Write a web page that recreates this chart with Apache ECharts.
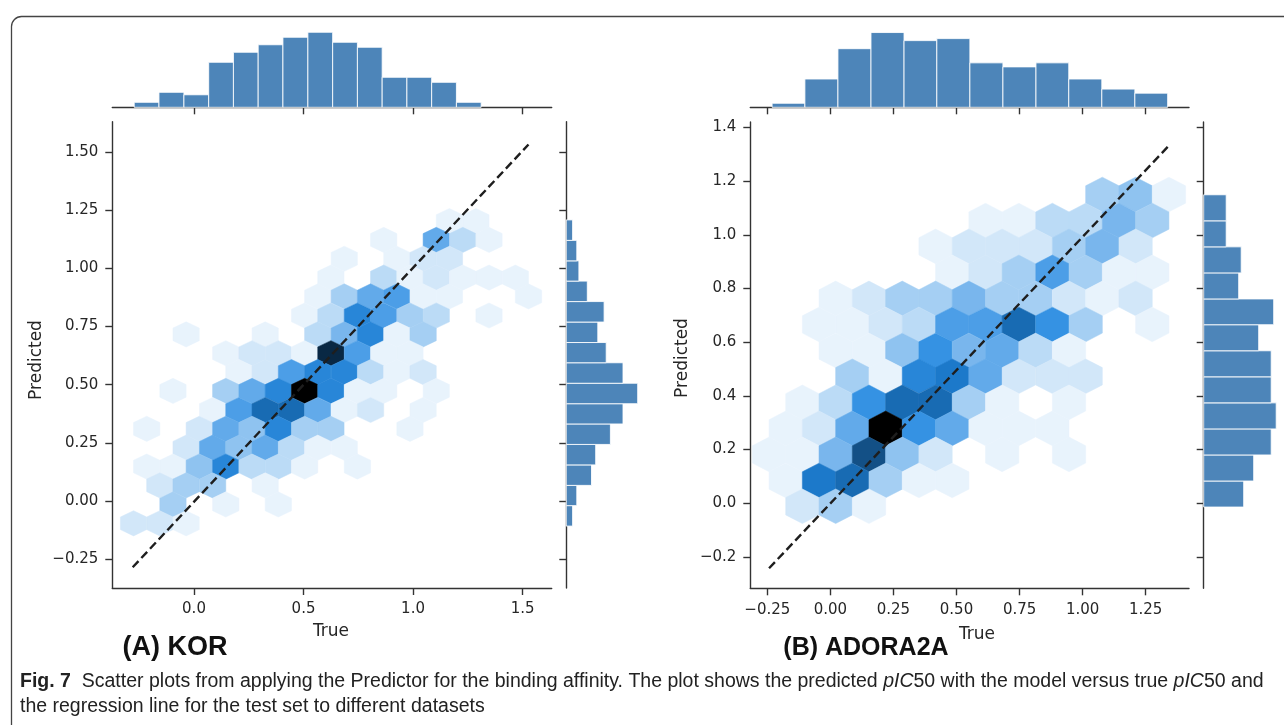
<!DOCTYPE html>
<html><head><meta charset="utf-8">
<script src="https://cdn.jsdelivr.net/npm/echarts@6/dist/echarts.min.js"></script>
<style>html,body{margin:0;padding:0;background:#fff}#c{width:1284px;height:725px}</style>
</head><body><div id="c"></div>
<script>
// ---------- DATA ----------
// Hexbin cells: [true, predicted, count]
const hexA = [
  [1.166,1.203,1],[1.287,1.203,1],
  [0.866,1.122,1],[1.106,1.122,7],[1.227,1.122,3],[1.347,1.122,1],
  [0.686,1.041,1],[0.926,1.041,1],[1.046,1.041,2],[1.166,1.041,2],
  [0.625,0.960,1],[0.866,0.960,3],[0.986,0.960,1],[1.106,0.960,2],[1.227,0.960,1],[1.347,0.960,1],[1.467,0.960,1],
  [0.565,0.879,1],[0.686,0.879,4],[0.806,0.879,7],[0.926,0.879,8],[1.046,0.879,1],[1.166,0.879,1],[1.527,0.879,1],
  [0.505,0.797,1],[0.625,0.797,3],[0.746,0.797,10],[0.866,0.797,8],[0.986,0.797,4],[1.106,0.797,3],[1.347,0.797,1],
  [-0.036,0.716,1],[0.325,0.716,1],[0.565,0.716,3],[0.686,0.716,6],[0.806,0.716,10],[0.926,0.716,1],[1.046,0.716,4],
  [0.145,0.635,1],[0.265,0.635,2],[0.385,0.635,2],[0.505,0.635,1],[0.625,0.635,17],[0.746,0.635,8],[0.866,0.635,1],[0.986,0.635,1],
  [0.205,0.554,1],[0.325,0.554,2],[0.445,0.554,8],[0.565,0.554,10],[0.686,0.554,10],[0.806,0.554,3],[0.926,0.554,1],[1.046,0.554,2],
  [-0.096,0.473,1],[0.145,0.473,4],[0.265,0.473,7],[0.385,0.473,10],[0.505,0.473,20],[0.625,0.473,10],[0.746,0.473,1],[0.866,0.473,1],[1.106,0.473,1],
  [0.085,0.391,1],[0.205,0.391,8],[0.325,0.391,12],[0.445,0.391,12],[0.565,0.391,7],[0.686,0.391,1],[0.806,0.391,2],[1.046,0.391,1],
  [-0.216,0.310,1],[0.024,0.310,2],[0.145,0.310,7],[0.265,0.310,5],[0.385,0.310,10],[0.505,0.310,4],[0.625,0.310,4],[0.986,0.310,1],
  [-0.036,0.229,2],[0.085,0.229,7],[0.205,0.229,5],[0.325,0.229,7],[0.445,0.229,3],[0.565,0.229,1],[0.686,0.229,1],
  [-0.216,0.148,1],[-0.096,0.148,1],[0.024,0.148,5],[0.145,0.148,10],[0.265,0.148,3],[0.385,0.148,3],[0.505,0.148,1],[0.746,0.148,1],
  [-0.156,0.067,2],[-0.036,0.067,4],[0.085,0.067,4],[0.325,0.067,1],
  [-0.096,-0.015,4],[0.145,-0.015,1],[0.385,-0.015,1],
  [-0.276,-0.096,2],[-0.156,-0.096,2],[-0.036,-0.096,1]
];
const hexB = [
  [1.078,1.150,4],[1.210,1.150,5],[1.342,1.150,1],
  [0.615,1.053,1],[0.747,1.053,1],[0.880,1.053,3],[1.012,1.053,3],[1.144,1.053,6],[1.276,1.053,4],
  [0.417,0.957,1],[0.549,0.957,2],[0.681,0.957,2],[0.813,0.957,2],[0.946,0.957,4],[1.078,0.957,6],[1.210,0.957,2],
  [0.483,0.860,1],[0.615,0.860,2],[0.747,0.860,4],[0.880,0.860,8],[1.012,0.860,4],[1.144,0.860,1],[1.276,0.860,1],
  [0.021,0.763,1],[0.153,0.763,2],[0.285,0.763,4],[0.417,0.763,4],[0.549,0.763,6],[0.681,0.763,4],[0.813,0.763,4],[0.946,0.763,2],[1.078,0.763,1],[1.210,0.763,2],
  [-0.045,0.666,1],[0.087,0.666,1],[0.219,0.666,2],[0.351,0.666,3],[0.483,0.666,8],[0.615,0.666,8],[0.747,0.666,12],[0.880,0.666,9],[1.012,0.666,4],[1.276,0.666,1],
  [0.021,0.569,1],[0.153,0.569,1],[0.285,0.569,5],[0.417,0.569,9],[0.549,0.569,6],[0.681,0.569,7],[0.813,0.569,3],[0.946,0.569,1],
  [0.087,0.473,4],[0.219,0.473,1],[0.351,0.473,10],[0.483,0.473,11],[0.615,0.473,7],[0.747,0.473,2],[0.880,0.473,2],[1.012,0.473,2],
  [-0.111,0.376,1],[0.021,0.376,3],[0.153,0.376,9],[0.285,0.376,12],[0.417,0.376,12],[0.549,0.376,4],[0.681,0.376,1],[0.946,0.376,1],
  [-0.177,0.279,1],[-0.045,0.279,2],[0.087,0.279,7],[0.219,0.279,20],[0.351,0.279,9],[0.483,0.279,7],[0.615,0.279,1],[0.747,0.279,1],[0.880,0.279,1],
  [-0.243,0.182,1],[-0.111,0.182,1],[0.021,0.182,6],[0.153,0.182,14],[0.285,0.182,5],[0.417,0.182,2],[0.681,0.182,1],[0.946,0.182,1],
  [-0.177,0.085,1],[-0.045,0.085,11],[0.087,0.085,12],[0.219,0.085,4],[0.351,0.085,1],[0.483,0.085,1],
  [-0.111,-0.011,2],[0.021,-0.011,4],[0.153,-0.011,1]
];
// Marginal histograms: bin edges and counts
const topEdgesA = [-0.273,-0.160,-0.046,0.067,0.180,0.293,0.406,0.520,0.633,0.746,0.859,0.972,1.085,1.198,1.311];
const topCountsA = [2,6,5,18,22,25,28,30,26,24,12,12,10,2];
const rightEdgesA = [-0.108,-0.020,0.067,0.155,0.243,0.331,0.418,0.506,0.594,0.681,0.769,0.857,0.945,1.032,1.120,1.208];
const rightCountsA = [3,5,12,14,21,27,34,27,19,15,18,10,6,5,3];
const topEdgesB = [-0.231,-0.101,0.030,0.161,0.292,0.422,0.553,0.684,0.815,0.945,1.076,1.207,1.337];
const topCountsB = [2,14,29,37,33,34,22,20,22,14,9,7];
const rightEdgesB = [-0.014,0.083,0.180,0.277,0.374,0.471,0.568,0.665,0.761,0.858,0.955,1.052,1.149];
const rightCountsB = [16,20,27,29,27,27,22,28,14,15,9,9];
// Regression lines
const lineA = [[-0.280,-0.285],[1.527,1.532]];
const lineB = [[-0.243,-0.242],[1.342,1.332]];
// Tick values and labels
const xTicksA = [0,0.5,1.0,1.5];
const xLabelsA = ['0.0','0.5','1.0','1.5'];
const yTicksA = [-0.25,0,0.25,0.5,0.75,1.0,1.25,1.5];
const yLabelsA = ['\u22120.25','0.00','0.25','0.50','0.75','1.00','1.25','1.50'];
const xTicksB = [-0.25,0,0.25,0.5,0.75,1.0,1.25];
const xLabelsB = ['\u22120.25','0.00','0.25','0.50','0.75','1.00','1.25'];
const yTicksB = [-0.2,0,0.2,0.4,0.6,0.8,1.0,1.2,1.4];
const yLabelsB = ['\u22120.2','0.0','0.2','0.4','0.6','0.8','1.0','1.2','1.4'];
const panelLabels = ['(A) KOR','(B) ADORA2A'];
const axisTitles = ['True','Predicted'];

// ---------- STYLE / RENDER ----------
const hexSizeA = [0.1202, 0.1624];
const hexSizeB = [0.1321, 0.1936];
const barColor = '#4d85b9';
const axisColor = '#333';
const tickFont = 'DejaVu Sans';

function hls2hex(h, l, s){
  const c = (1 - Math.abs(2*l - 1)) * s;
  const hp = h/60, x = c*(1 - Math.abs(hp % 2 - 1));
  let r=0,g=0,b=0;
  if (hp<1){r=c;g=x;} else if(hp<2){r=x;g=c;} else if(hp<3){g=c;b=x;} else if(hp<4){g=x;b=c;} else if(hp<5){r=x;b=c;} else {r=c;b=x;}
  const m = l - c/2;
  const f = v => Math.round(Math.min(1,Math.max(0,v+m))*255).toString(16).padStart(2,'0');
  return '#'+f(r)+f(g)+f(b);
}
const cmap = [];
for (let i=0;i<12;i++){ cmap.push(hls2hex(208, 1 - i/11, 0.76)); }

function hexRender(sz){
  const verts = [[0.5,-0.5],[0.5,0.5],[0,1],[-0.5,0.5],[-0.5,-0.5],[0,-1]];
  return function(params, api){
    const x = api.value(0), y = api.value(1);
    const pts = verts.map(v => api.coord([x + v[0]*sz[0], y + v[1]*sz[1]/3]));
    const c = api.visual('color');
    return {type:'polygon', shape:{points:pts}, style:{fill:c, stroke:c, lineWidth:0.5}};
  };
}
function topBarRender(params, api){
  const p0 = api.coord([api.value(0), api.value(2)]);
  const p1 = api.coord([api.value(1), 0]);
  return {type:'rect', shape:{x:p0[0], y:p0[1], width:p1[0]-p0[0], height:p1[1]-p0[1]},
    style:{fill:barColor, stroke:'rgba(255,255,255,0.85)', lineWidth:1}};
}
function rightBarRender(params, api){
  const p0 = api.coord([0, api.value(1)]);
  const p1 = api.coord([api.value(2), api.value(0)]);
  return {type:'rect', shape:{x:p0[0], y:p0[1], width:p1[0]-p0[0], height:p1[1]-p0[1]},
    style:{fill:barColor, stroke:'rgba(255,255,255,0.85)', lineWidth:1}};
}
function binsData(edges, counts){
  return counts.map((c,i) => [edges[i], edges[i+1], c]);
}

function valAxis(gi, min, max, ticks, labels, showLabels, pos){
  return {type:'value', gridIndex:gi, min:min, max:max, position:pos,
    axisLine:{show:true, onZero:false, lineStyle:{color:axisColor, width:1.4}},
    axisTick:{show:true, inside:false, length:7, customValues:ticks, lineStyle:{color:axisColor, width:1.4}},
    axisLabel:{show:showLabels, customValues:ticks, margin:14, color:'#262626', fontFamily:tickFont, fontSize:15,
      formatter: v => { const i = ticks.indexOf(v); return i>=0 ? labels[i] : ''; }},
    splitLine:{show:false}};
}
function hiddenAxis(gi, min, max){
  return {type:'value', gridIndex:gi, min:min, max:max, show:false, axisLine:{onZero:false}, splitLine:{show:false}};
}

const grids = [
  {left:112.3, top:121.7, width:439.4, height:466.3},   // A joint
  {left:112.3, top:28.5, width:439.4, height:78.8},     // A top
  {left:566.3, top:121.7, width:75.6, height:466.3},    // A right
  {left:750.3, top:122, width:438.7, height:466.3},     // B joint
  {left:750.3, top:28.8, width:438.7, height:78.5},     // B top
  {left:1203.7, top:122, width:76, height:466.3}        // B right
];
const AX = [-0.373, 1.633], AY = [-0.374, 1.630];
const BX = [-0.3174, 1.4216], BY = [-0.3166, 1.42];

const xAxes = [
  valAxis(0, AX[0], AX[1], xTicksA, xLabelsA, true, 'bottom'),
  valAxis(1, AX[0], AX[1], xTicksA, xLabelsA, false, 'bottom'),
  hiddenAxis(2, 0, 36),
  valAxis(3, BX[0], BX[1], xTicksB, xLabelsB, true, 'bottom'),
  valAxis(4, BX[0], BX[1], xTicksB, xLabelsB, false, 'bottom'),
  hiddenAxis(5, 0, 30.4)
];
const yAxes = [
  valAxis(0, AY[0], AY[1], yTicksA, yLabelsA, true, 'left'),
  hiddenAxis(1, 0, 31.5),
  valAxis(2, AY[0], AY[1], yTicksA, yLabelsA, false, 'left'),
  valAxis(3, BY[0], BY[1], yTicksB, yLabelsB, true, 'left'),
  hiddenAxis(4, 0, 38.85),
  valAxis(5, BY[0], BY[1], yTicksB, yLabelsB, false, 'left')
];

const dashStyle = {color:'#1e1e1e', width:2.4, type:[8.5,4.2]};
const series = [
  {type:'custom', name:'hexA', xAxisIndex:0, yAxisIndex:0, data:hexA, renderItem:hexRender(hexSizeA), encode:{x:0,y:1}, z:2, silent:true},
  {type:'custom', name:'hexB', xAxisIndex:3, yAxisIndex:3, data:hexB, renderItem:hexRender(hexSizeB), encode:{x:0,y:1}, z:2, silent:true},
  {type:'line', xAxisIndex:0, yAxisIndex:0, data:lineA, symbol:'none', lineStyle:dashStyle, z:5, silent:true},
  {type:'line', xAxisIndex:3, yAxisIndex:3, data:lineB, symbol:'none', lineStyle:dashStyle, z:5, silent:true},
  {type:'custom', xAxisIndex:1, yAxisIndex:1, data:binsData(topEdgesA, topCountsA), renderItem:topBarRender, encode:{x:[0,1], y:2}, silent:true},
  {type:'custom', xAxisIndex:2, yAxisIndex:2, data:binsData(rightEdgesA, rightCountsA), renderItem:rightBarRender, encode:{x:2, y:[0,1]}, silent:true},
  {type:'custom', xAxisIndex:4, yAxisIndex:4, data:binsData(topEdgesB, topCountsB), renderItem:topBarRender, encode:{x:[0,1], y:2}, silent:true},
  {type:'custom', xAxisIndex:5, yAxisIndex:5, data:binsData(rightEdgesB, rightCountsB), renderItem:rightBarRender, encode:{x:2, y:[0,1]}, silent:true}
];

const titleFont = {fontFamily:tickFont, fontSize:17, fill:'#262626'};
const capFont = 'Liberation Sans';
const capSize = 19.5;
const graphic = [
  {type:'rect', left:9, top:14, shape:{width:1300, height:740, r:10}, style:{fill:'none', stroke:'#444', lineWidth:1.3}, silent:true, z:-1},
  {type:'text', x:331, y:632, style:Object.assign({text:axisTitles[0], align:'center', verticalAlign:'middle'}, titleFont)},
  {type:'text', x:977, y:635, style:Object.assign({text:axisTitles[0], align:'center', verticalAlign:'middle'}, titleFont)},
  {type:'text', x:37, y:360, rotation:Math.PI/2, style:Object.assign({text:axisTitles[1], align:'center', verticalAlign:'middle'}, titleFont)},
  {type:'text', x:683, y:358, rotation:Math.PI/2, style:Object.assign({text:axisTitles[1], align:'center', verticalAlign:'middle'}, titleFont)},
  {type:'text', x:175, y:648, style:{text:panelLabels[0], align:'center', fontFamily:capFont, fontWeight:'bold', fontSize:27, fill:'#111', verticalAlign:'middle'}},
  {type:'text', x:866, y:648, style:{text:panelLabels[1], align:'center', fontFamily:capFont, fontWeight:'bold', fontSize:25, fill:'#111', verticalAlign:'middle'}},
  {type:'text', x:20, y:682, style:{
    text:'{b|Fig. 7}  Scatter plots from applying the Predictor for the binding affinity. The plot shows the predicted {i|pIC}50 with the model versus true {i|pIC}50 and',
    fontFamily:capFont, fontSize:capSize, fill:'#222', verticalAlign:'middle',
    rich:{b:{fontWeight:'bold', fontFamily:capFont, fontSize:capSize, fill:'#222'}, i:{fontStyle:'italic', fontFamily:capFont, fontSize:capSize, fill:'#222'}}}},
  {type:'text', x:20, y:707, style:{text:'the regression line for the test set to different datasets', fontFamily:capFont, fontSize:capSize, fill:'#222', verticalAlign:'middle'}}
];

const chart = echarts.init(document.getElementById('c'), null, {renderer:'canvas'});
chart.setOption({
  animation:false,
  backgroundColor:'#fff',
  grid:grids, xAxis:xAxes, yAxis:yAxes,
  visualMap:[{type:'continuous', show:false, seriesIndex:[0,1], dimension:2, min:0, max:20, inRange:{color:cmap}}],
  series:series,
  graphic:graphic
});
</script></body></html>
